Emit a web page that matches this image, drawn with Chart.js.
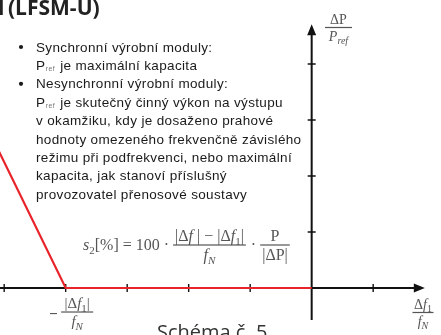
<!DOCTYPE html>
<html>
<head>
<meta charset="utf-8">
<script src="https://cdn.jsdelivr.net/npm/chart.js@4.4.1/dist/chart.umd.min.js"></script>
<style>
html, body { margin: 0; padding: 0; background: #fff; }
canvas { display: block; }
</style>
</head>
<body>
<canvas id="myChart" width="441" height="335"></canvas>
<script>
// red characteristic (x = Δf/fN, y = ΔP/Pref, arbitrary units)
const curveX = [-5.2, -4, 0];
const curveY = [2.7, 0, 0];
const xTicks = [-5, -4, -3, -2, -1, 1];
const yTicks = [1, 2, 3, 4];
const xAxisRange = [-5.2, 1.84];
const yAxisRange = [-0.57, 4.71];
const kneeX = -4;

const heading = "(LFSM-U)";
const caption = "Schéma č. 5";
// [bullet?, text]  "P_ref" is drawn with subscript
const notes = [
  [true, "Synchronní výrobní moduly:"],
  [false, "P_ref je maximální kapacita"],
  [true, "Nesynchronní výrobní moduly:"],
  [false, "P_ref je skutečný činný výkon na výstupu"],
  [false, "v okamžiku, kdy je dosaženo prahové"],
  [false, "hodnoty omezeného frekvenčně závislého"],
  [false, "režimu při podfrekvenci, nebo maximální"],
  [false, "kapacita, jak stanoví příslušný"],
  [false, "provozovatel přenosové soustavy"]
];

const ctx = document.getElementById('myChart');
const SERIF = '"Liberation Serif", "DejaVu Serif", serif';
const SANS = '"Liberation Sans", Arial, sans-serif';
const MATH = '#555';

function runFont(style, size) {
  if (style === 'i') return 'italic ' + size + 'px ' + SERIF;
  if (style === 's') return Math.round(size * 0.7) + 'px ' + SERIF;
  if (style === 'si') return 'italic ' + Math.round(size * 0.7) + 'px ' + SERIF;
  return size + 'px ' + SERIF;
}
function runsWidth(c, runs, size) {
  let w = 0;
  runs.forEach(r => { c.font = runFont(r[1], size); w += c.measureText(r[0]).width; });
  return w;
}
function drawRuns(c, runs, x, y, size) {
  c.textAlign = 'left';
  c.textBaseline = 'alphabetic';
  runs.forEach(r => {
    c.font = runFont(r[1], size);
    const dy = (r[1] === 's' || r[1] === 'si') ? size * 0.25 : 0;
    c.fillText(r[0], x, y + dy);
    x += c.measureText(r[0]).width;
  });
  return x;
}
function drawFrac(c, num, den, cx, yBar, size, barW) {
  const wn = runsWidth(c, num, size), wd = runsWidth(c, den, size);
  const w = barW || Math.max(wn, wd) + 4;
  drawRuns(c, num, cx - wn / 2, yBar - 4, size);
  drawRuns(c, den, cx - wd / 2, yBar + size - 1, size);
  c.fillRect(cx - w / 2, yBar - 0.6, w, 1.2);
  return w;
}

const axesPlugin = {
  id: 'axes',
  beforeDatasetsDraw(chart) {
    const c = chart.ctx, x = chart.scales.x, y = chart.scales.y;
    const x0 = x.getPixelForValue(0), y0 = y.getPixelForValue(0);
    c.save();
    c.strokeStyle = '#111';
    c.fillStyle = '#111';
    c.lineWidth = 2;
    const xa = x.getPixelForValue(xAxisRange[0]), xb = x.getPixelForValue(xAxisRange[1]);
    const ya = y.getPixelForValue(yAxisRange[0]), yb = y.getPixelForValue(yAxisRange[1]);
    c.beginPath();
    c.moveTo(xa, y0); c.lineTo(xb - 8, y0);
    c.moveTo(x0, ya); c.lineTo(x0, yb + 8);
    c.stroke();
    c.beginPath();
    c.moveTo(xb, y0); c.lineTo(xb - 11, y0 - 4.5); c.lineTo(xb - 11, y0 + 4.5); c.closePath();
    c.moveTo(x0, yb); c.lineTo(x0 - 4.5, yb + 11); c.lineTo(x0 + 4.5, yb + 11); c.closePath();
    c.fill();
    c.lineWidth = 1.4;
    c.beginPath();
    xTicks.forEach(v => { const p = x.getPixelForValue(v); c.moveTo(p, y0 - 4); c.lineTo(p, y0 + 4); });
    yTicks.forEach(v => { const p = y.getPixelForValue(v); c.moveTo(x0 - 4, p); c.lineTo(x0 + 4, p); });
    c.stroke();
    c.restore();
  },
  afterDraw(chart) {
    const c = chart.ctx, x = chart.scales.x, y = chart.scales.y;
    const y0 = y.getPixelForValue(0);
    c.save();

    // heading (cut at the top)
    c.fillStyle = '#222';
    c.font = 'bold 21px "Open Sans", sans-serif';
    c.textBaseline = 'alphabetic';
    c.textAlign = 'right';
    c.fillText('modul', 4.5, 15);
    c.textAlign = 'left';
    c.fillText(heading, 8, 15);

    // notes
    c.fillStyle = '#1a1a1a';
    c.letterSpacing = '0.35px';
    notes.forEach((n, i) => {
      const yy = 51.5 + i * 18.4;
      if (n[0]) {
        c.beginPath(); c.arc(21, yy - 4.5, 2.1, 0, Math.PI * 2); c.fill();
      }
      let tx = 36;
      let t = n[1];
      c.font = '13.5px ' + SANS;
      if (t.startsWith('P_ref')) {
        c.fillText('P', tx, yy);
        tx += c.measureText('P').width;
        c.font = '7px ' + SANS;
        c.fillStyle = '#777';
        c.fillText('ref', tx + 0.5, yy + 1);
        tx += c.measureText('ref').width + 1.5;
        c.fillStyle = '#1a1a1a';
        c.font = '13.5px ' + SANS;
        t = t.slice(5);
      }
      c.fillText(t, tx, yy);
    });
    c.letterSpacing = '0px';

    // formula
    c.fillStyle = MATH;
    const fs = 16;
    const num1 = [['|Δ', 'r'], ['f', 'i'], [' | − |Δ', 'r'], ['f', 'i'], ['1', 's'], ['|', 'r']];
    let fx = drawRuns(c, [['s', 'i'], ['2', 's'], ['[%] = 100 · ', 'r']], 83, 250, fs);
    const w1 = runsWidth(c, num1, fs);
    drawFrac(c, num1, [['f', 'i'], ['N', 'si']], fx + w1 / 2 + 2, 245, fs, w1 + 4);
    fx += w1 + 5;
    fx = drawRuns(c, [[' · ', 'r']], fx, 250, fs);
    const w2 = runsWidth(c, [['|ΔP|', 'r']], fs);
    drawFrac(c, [['P', 'r']], [['|ΔP|', 'r']], fx + w2 / 2 + 2, 245, fs, w2 + 4);

    // y axis label
    drawFrac(c, [['ΔP', 'r']], [['P', 'i'], ['ref', 'si']], 338.5, 27.5, 14, 27);

    // x axis label
    drawFrac(c, [['Δ', 'r'], ['f', 'i'], ['1', 's']], [['f', 'i'], ['N', 'si']], 423, 312.5, 14, 21);

    // knee tick label
    const kx = x.getPixelForValue(kneeX);
    c.fillRect(50, y0 + 25, 7, 1.1);
    drawFrac(c, [['|Δ', 'r'], ['f', 'i'], ['1', 's'], ['|', 'r']], [['f', 'i'], ['N', 'si']], kx + 11.5, y0 + 24, 15, 32);

    // caption (cut at the bottom)
    c.fillStyle = '#333';
    c.font = '20px "Open Sans", sans-serif';
    c.textAlign = 'left';
    c.fillText(caption, 157, 339);

    c.restore();
  }
};

new Chart(ctx, {
  type: 'line',
  data: {
    datasets: [{
      data: curveX.map((v, i) => ({ x: v, y: curveY[i] })),
      borderColor: '#e8242b',
      borderWidth: 2.2,
      pointRadius: 0,
      tension: 0
    }]
  },
  options: {
    responsive: false,
    animation: false,
    layout: { padding: 0 },
    plugins: {
      legend: { display: false },
      tooltip: { enabled: false }
    },
    scales: {
      x: { type: 'linear', min: -5.068, max: 2.103, display: false },
      y: { type: 'linear', min: -0.839, max: 5.143, display: false }
    }
  },
  plugins: [axesPlugin]
});
</script>
</body>
</html>
